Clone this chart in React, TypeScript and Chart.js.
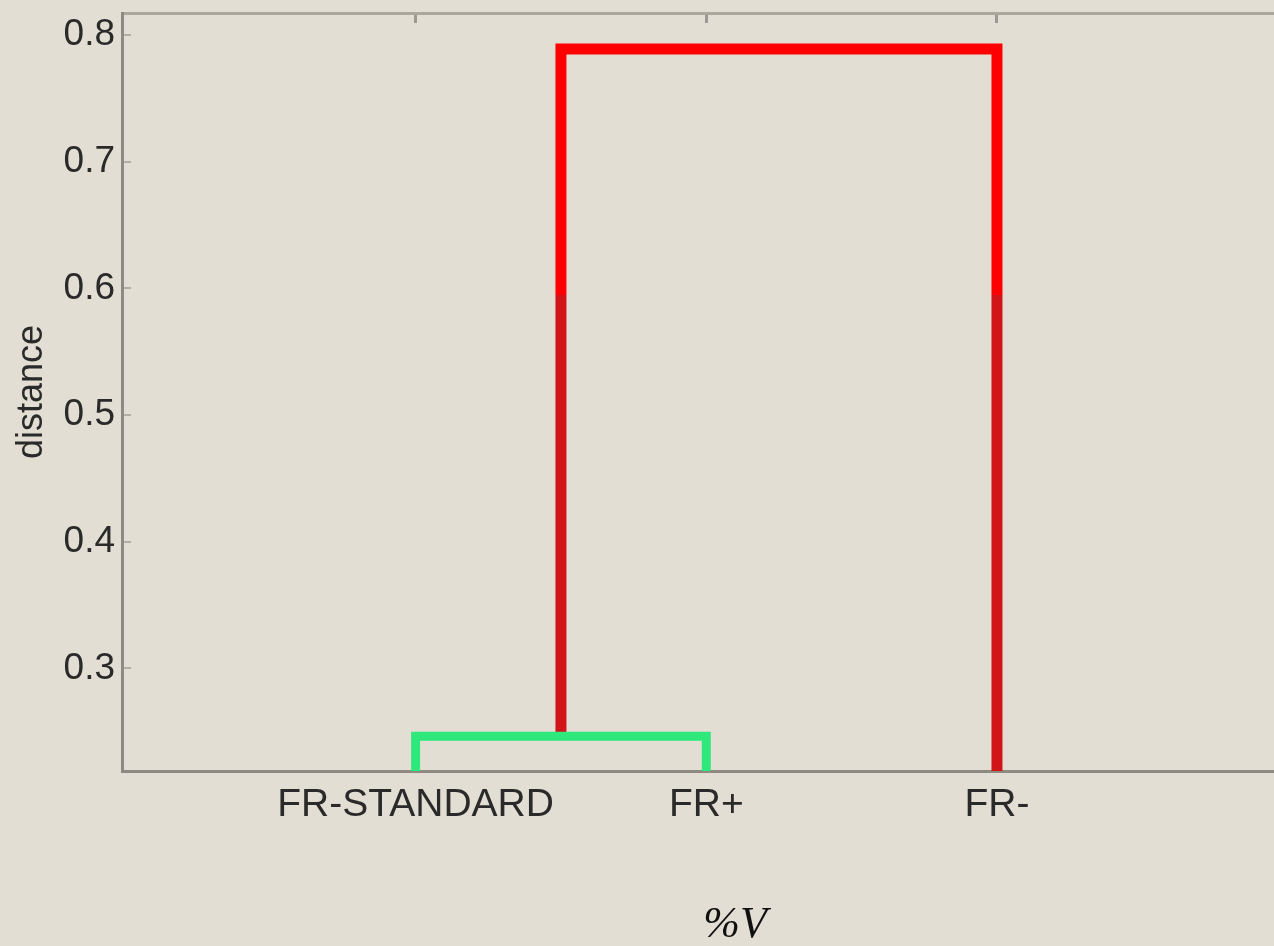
import { useEffect, useRef } from 'react';
import { Chart, registerables } from 'chart.js';

Chart.register(...registerables);

// leaf order along the x axis (positions 1..3)
const leafLabels = ['FR-STANDARD', 'FR+', 'FR-'];
const leafPositions = [1, 2, 3];
const yTickValues = [0.3, 0.4, 0.5, 0.6, 0.7, 0.8];

// link 1: FR-STANDARD + FR+  (U shape)
const link1X = [1, 1, 2, 2];
const link1Y = [0, 0.2465, 0.2465, 0];
// link 2: (cluster 1) + FR-
const link2X = [1.5, 1.5, 3, 3];
const link2Y = [0.2465, 0.789, 0.789, 0];

const BG = '#e3ded3';

export default function App() {
  const canvasRef = useRef<HTMLCanvasElement | null>(null);

  useEffect(() => {
    document.body.style.margin = '0';
    document.body.style.background = BG;
    if (!canvasRef.current) return;

    const redStroke = (ctx: any) => {
      const chart = ctx.chart;
      const area = chart.chartArea;
      if (!area) return '#ff0000';
      const yScale = chart.scales.y;
      const cut = yScale.getPixelForValue(0.595);
      const g = chart.ctx.createLinearGradient(0, area.top, 0, area.bottom);
      const t = Math.min(Math.max((cut - area.top) / (area.bottom - area.top), 0), 1);
      g.addColorStop(0, '#ff0000');
      g.addColorStop(t, '#ff0000');
      g.addColorStop(t, '#d01418');
      g.addColorStop(1, '#d01418');
      return g;
    };

    const chart = new Chart(canvasRef.current, {
      type: 'line',
      data: {
        datasets: [
          {
            data: link1X.map((x, i) => ({ x, y: link1Y[i] })),
            borderColor: '#2ee87c',
            borderWidth: 9,
            pointRadius: 0,
            borderJoinStyle: 'miter',
            borderCapStyle: 'butt',
            clip: 0,
          },
          {
            data: link2X.map((x, i) => ({ x, y: link2Y[i] })),
            borderColor: redStroke,
            borderWidth: 11,
            pointRadius: 0,
            borderJoinStyle: 'miter',
            borderCapStyle: 'butt',
            clip: 0,
          },
        ],
      },
      options: {
        animation: false,
        responsive: false,
        layout: { padding: { top: 13, right: 0, bottom: 0, left: 0 } },
        plugins: { legend: { display: false }, tooltip: { enabled: false } },
        scales: {
          x: {
            type: 'linear',
            position: 'bottom',
            min: -0.01,
            max: 3.953,
            afterBuildTicks: (s: any) => {
              s.ticks = leafPositions.map((v) => ({ value: v }));
            },
            afterFit: (s: any) => {
              s.height = 175;
              s.paddingLeft = 0;
              s.paddingRight = 0;
            },
            border: { color: '#8e8a82', width: 3 },
            grid: { drawOnChartArea: false, tickLength: -10, color: '#a09c94', lineWidth: 2 },
            ticks: {
              autoSkip: false,
              maxRotation: 0,
              padding: 25,
              color: '#2a2a2a',
              font: { family: 'Liberation Sans, Arial, sans-serif', size: 39, lineHeight: 1 },
              callback: (v: any) => leafLabels[leafPositions.indexOf(Number(v))] ?? '',
            },
          },
          xTop: {
            type: 'linear',
            position: 'top',
            min: -0.01,
            max: 3.953,
            afterBuildTicks: (s: any) => {
              s.ticks = leafPositions.map((v) => ({ value: v }));
            },
            afterFit: (s: any) => {
              s.height = 0;
              s.paddingLeft = 0;
              s.paddingRight = 0;
            },
            border: { color: '#aca79d', width: 3 },
            grid: { drawOnChartArea: false, tickLength: -10, color: '#9c988f', lineWidth: 3 },
            ticks: { display: false },
          },
          y: {
            type: 'linear',
            min: 0.219,
            max: 0.8174,
            afterBuildTicks: (s: any) => {
              s.ticks = yTickValues.map((v) => ({ value: v }));
            },
            afterFit: (s: any) => {
              s.width = 122;
              s.paddingTop = 0;
              s.paddingBottom = 0;
            },
            border: { color: '#8e8a82', width: 3 },
            grid: { drawOnChartArea: false, tickLength: -9, color: '#b3aea4', lineWidth: 2 },
            ticks: {
              padding: 16,
              color: '#2a2a2a',
              font: { family: 'Liberation Sans, Arial, sans-serif', size: 37, lineHeight: 1 },
              callback: (v: any) => Number(v).toFixed(1),
            },
            title: {
              display: true,
              text: 'distance',
              color: '#2a2a2a',
              padding: { top: 14, bottom: 0 },
              font: { family: 'Liberation Sans, Arial, sans-serif', size: 36, lineHeight: 1 },
            },
          },
        },
      },
    });

    return () => {
      chart.destroy();
    };
  }, []);

  return (
    <div style={{ position: 'relative', width: 1274, height: 946, background: BG, overflow: 'hidden' }}>
      <canvas ref={canvasRef} width={1274} height={946} style={{ display: 'block', width: 1274, height: 946 }} />
      <div
        style={{
          position: 'absolute',
          left: 735,
          top: 922,
          transform: 'translate(-50%, -50%)',
          font: 'italic 44px "Liberation Serif", "Times New Roman", serif',
          color: '#111111',
          whiteSpace: 'nowrap',
        }}
      >
        %V
      </div>
    </div>
  );
}
